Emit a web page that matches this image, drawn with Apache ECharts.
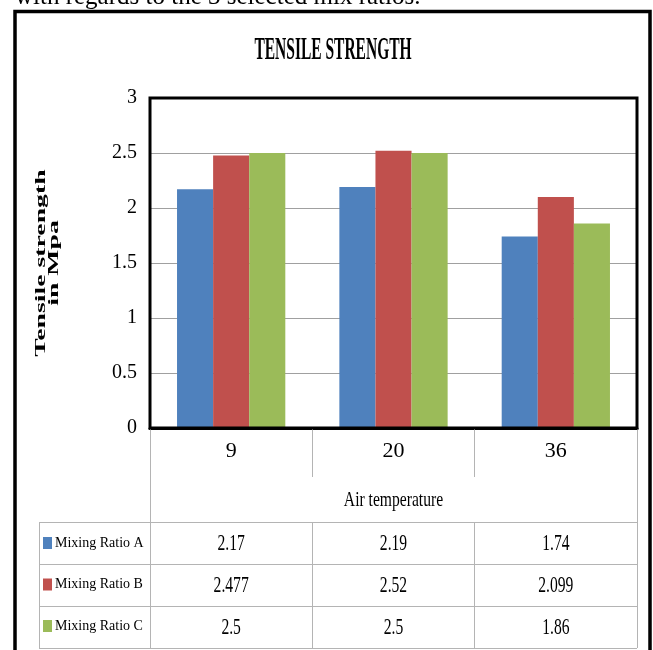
<!DOCTYPE html>
<html>
<head>
<meta charset="utf-8">
<script src="https://cdn.jsdelivr.net/npm/echarts@6/dist/echarts.min.js"></script>
<style>
  html, body { margin: 0; padding: 0; background: #fff; }
  #chart { width: 653px; height: 650px; }
</style>
</head>
<body>
<div id="chart"></div>
<script>
// Air temperature categories and tensile strength (MPa) per mixing ratio
const categories = ['9', '20', '36'];
const seriesNames = ['Mixing Ratio A', 'Mixing Ratio B', 'Mixing Ratio C'];
const ratioA = [2.17, 2.19, 1.74];
const ratioB = [2.477, 2.52, 2.099];
const ratioC = [2.5, 2.5, 1.86];
const yTicks = { min: 0, max: 3, interval: 0.5 };

const seriesValues = [ratioA, ratioB, ratioC];
const colors = ['#4F81BD', '#C0504D', '#9BBB59'];

// plot area in pixels
const GL = 150, GT = 98, GW = 487, GH = 330;
const W = 653, H = 650;
const SERIF = '"Liberation Serif", "Times New Roman", serif';

// data table below the axis
const tableLeft = 39, tableTop = 522, rowH = 42;
const lineColor = '#b4b4b4';

function crisp(v) { return Math.round(v - 0.5) + 0.5; }

const colX = [];
for (let i = 0; i <= categories.length; i++) colX.push(GL + i * GW / categories.length);

const graphics = [];

// caption line of the surrounding text, cut at the top edge
graphics.push({
  type: 'text', x: 15, y: -3,
  style: { text: 'with regards to the 3 selected mix ratios.', font: '25px ' + SERIF,
           fill: '#000', align: 'left', verticalAlign: 'middle' }
});

// frame around the whole chart
graphics.push({
  type: 'rect', z: 10,
  shape: { x: 15, y: 11.5, width: 635, height: 700 },
  style: { fill: 'none', stroke: '#000', lineWidth: 3.5 }
});

// chart title
graphics.push({
  type: 'text', x: 333, y: 50.5, scaleX: 0.5,
  style: { text: 'TENSILE STRENGTH', font: 'bold 31px ' + SERIF, fill: '#000',
           align: 'center', verticalAlign: 'middle' }
});

// vertical axis title
graphics.push({
  type: 'text', x: 48, y: 263, rotation: Math.PI / 2, scaleX: 1.85,
  style: { text: 'Tensile strength\nin Mpa', font: 'bold 15px ' + SERIF, fill: '#000',
           align: 'center', verticalAlign: 'middle', lineHeight: 13 }
});

// horizontal axis title
graphics.push({
  type: 'text', x: GL + GW / 2, y: 500, scaleX: 0.71,
  style: { text: 'Air temperature', font: '22px ' + SERIF, fill: '#000',
           align: 'center', verticalAlign: 'middle' }
});

// table grid lines
const nRows = seriesNames.length;
const tableBottom = tableTop + nRows * rowH;
for (let r = 0; r <= nRows; r++) {
  const y = crisp(tableTop + r * rowH);
  graphics.push({ type: 'line', shape: { x1: tableLeft, y1: y, x2: GL + GW, y2: y },
                  style: { stroke: lineColor, lineWidth: 1 } });
}
graphics.push({ type: 'line', shape: { x1: crisp(tableLeft), y1: tableTop, x2: crisp(tableLeft), y2: tableBottom },
                style: { stroke: lineColor, lineWidth: 1 } });
colX.forEach((x, i) => {
  const edge = i === 0 || i === colX.length - 1;
  graphics.push({ type: 'line',
                  shape: { x1: crisp(x), y1: edge ? GT + GH : tableTop, x2: crisp(x), y2: tableBottom },
                  style: { stroke: lineColor, lineWidth: 1 } });
});

// table values, one row per mixing ratio
seriesValues.forEach((vals, r) => {
  vals.forEach((v, c) => {
    graphics.push({
      type: 'text', x: (colX[c] + colX[c + 1]) / 2, y: tableTop + r * rowH + rowH / 2 + 0.5, scaleX: 0.65,
      style: { text: String(v), font: '24px ' + SERIF, fill: '#000',
               align: 'center', verticalAlign: 'middle' }
    });
  });
});

const chart = echarts.init(document.getElementById('chart'), null, { renderer: 'canvas', width: W, height: H });

chart.setOption({
  backgroundColor: '#fff',
  animation: false,
  color: colors,
  grid: {
    left: GL, top: GT, width: GW, height: GH,
    show: true, borderColor: '#000', borderWidth: 3, backgroundColor: 'transparent', z: 3
  },
  legend: {
    orient: 'vertical', left: 43, top: 536, padding: 0,
    itemWidth: 9, itemHeight: 12, itemGap: 27.5, selectedMode: false,
    icon: 'rect',
    data: seriesNames,
    textStyle: { fontFamily: SERIF, fontSize: 14, color: '#000', lineHeight: 12, padding: [0, 0, 0, -2] }
  },
  xAxis: {
    type: 'category', data: categories,
    axisLine: { show: true, lineStyle: { color: '#000', width: 3 } },
    axisTick: { show: true, length: 49, lineStyle: { color: lineColor, width: 1 } },
    axisLabel: { fontFamily: SERIF, fontSize: 22, color: '#000', margin: 12 }
  },
  yAxis: {
    type: 'value', min: yTicks.min, max: yTicks.max, interval: yTicks.interval,
    axisLine: { show: false }, axisTick: { show: false },
    axisLabel: { fontFamily: SERIF, fontSize: 20, color: '#000', margin: 13 },
    splitLine: { show: true, lineStyle: { color: '#a0a0a0', width: 1 } }
  },
  series: seriesNames.map((name, i) => ({
    name, type: 'bar', data: seriesValues[i],
    barGap: '0%', barCategoryGap: '33.3%',
    itemStyle: { color: colors[i] }
  })),
  graphic: graphics
});
</script>
</body>
</html>
